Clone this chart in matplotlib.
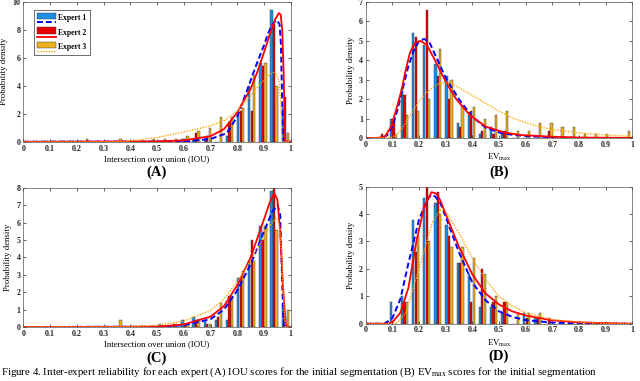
import numpy as np
import matplotlib.pyplot as plt
from matplotlib.legend_handler import HandlerBase
from matplotlib.patches import Rectangle
from matplotlib.lines import Line2D

plt.rcParams['font.family'] = ['Liberation Serif', 'DejaVu Serif']
plt.rcParams['font.weight'] = 'bold'
plt.rcParams['mathtext.fontset'] = 'custom'
plt.rcParams['mathtext.rm'] = 'Liberation Serif:bold'

# histogram densities, 24 bins on [0, 1]
A_e1 = [0, 0, 0, 0, 0, 0, 0, 0, 0, 0, 0, 0, 0, 0, 0.2, 0.2, 0.2, 0, 0.4, 2.0, 4.0, 5.6, 9.4, 2.4]
A_e2 = [0, 0, 0, 0, 0, 0, 0, 0, 0, 0, 0, 0, 0, 0, 0.2, 0.6, 0.4, 0, 1.4, 2.2, 2.2, 5.4, 8.4, 3.2]
A_e3 = [0, 0, 0, 0, 0, 0.2, 0, 0, 0.2, 0, 0, 0.2, 0.2, 0.2, 0.4, 0.8, 1.0, 1.8, 1.8, 2.4, 4.8, 5.6, 4.0, 0.6]

B_e1 = [0, 0, 1.0, 2.6, 5.4, 4.8, 3.8, 3.2, 0.8, 1.2, 0.2, 0.6, 0.2, 0, 0, 0, 0, 0, 0, 0, 0, 0, 0, 0]
B_e2 = [0, 0.2, 1.0, 2.2, 5.2, 6.6, 3.2, 2.0, 0.6, 1.4, 0.4, 0.2, 0.4, 0, 0, 0, 0.4, 0, 0, 0, 0, 0, 0, 0]
B_e3 = [0, 0, 0.2, 1.2, 1.4, 2.0, 4.6, 3.0, 1.6, 1.6, 1.0, 1.2, 1.4, 0.4, 0.4, 0.8, 0.8, 0.6, 0.6, 0.2, 0.2, 0.2, 0, 0.4]

C_e1 = [0, 0, 0, 0, 0, 0, 0, 0, 0, 0, 0, 0, 0.2, 0, 0.4, 0.6, 0.4, 0.4, 0.4, 2.8, 3.8, 5.8, 7.8, 1.4]
C_e2 = [0, 0, 0, 0, 0, 0, 0, 0, 0, 0, 0, 0, 0, 0.2, 0.2, 0.4, 0.2, 0.6, 1.8, 2.8, 5.0, 5.0, 8.0, 0.6]
C_e3 = [0, 0, 0, 0, 0, 0, 0, 0, 0.4, 0, 0, 0, 0, 0.2, 0.2, 0.4, 0.2, 1.4, 1.8, 3.2, 3.8, 5.8, 5.6, 1.0]

D_e1 = [0, 0, 0.8, 1.0, 3.8, 4.6, 4.4, 3.6, 2.2, 1.8, 0.6, 0.6, 0.4, 0, 0.4, 0.2, 0, 0, 0, 0, 0, 0, 0, 0]
D_e2 = [0, 0, 0, 0.8, 2.6, 5.0, 4.8, 3.2, 2.2, 0.8, 2.0, 0.8, 0.8, 0, 0.2, 0.2, 0.2, 0, 0, 0, 0, 0, 0, 0]
D_e3 = [0, 0, 0, 0.8, 3.2, 3.0, 4.0, 2.8, 2.8, 2.4, 1.8, 1.0, 0.8, 0.4, 0.4, 0.4, 0, 0, 0, 0, 0, 0, 0, 0]

# fitted density curves
A_x1 = [0, 0.6, 0.7, 0.76, 0.8, 0.835, 0.873, 0.9, 0.916, 0.935, 0.948, 0.958, 0.963, 0.967, 0.971, 1.0]
A_y1 = [0, 0.02, 0.2, 0.6, 1.8, 3.6, 5.6, 6.9, 7.8, 8.5, 8.7, 8.4, 7.0, 3.5, 0, 0]
A_x2 = [0, 0.5, 0.6, 0.7, 0.75, 0.8, 0.85, 0.875, 0.9, 0.92, 0.94, 0.955, 0.962, 0.968, 0.973, 0.977, 0.98, 1.0]
A_y2 = [0, 0.02, 0.1, 0.4, 0.9, 2.1, 3.8, 5.0, 6.4, 7.6, 8.7, 9.2, 9.1, 8.0, 5.0, 1.5, 0, 0]
A_x3 = [0, 0.35, 0.4, 0.5, 0.6, 0.65, 0.7, 0.75, 0.8, 0.85, 0.88, 0.9, 0.92, 0.935, 0.945, 0.955, 0.962, 0.966, 0.968, 1.0]
A_y3 = [0, 0, 0.05, 0.3, 0.7, 0.9, 1.15, 1.5, 2.2, 3.3, 4.0, 4.4, 4.8, 4.95, 4.85, 4.4, 3.0, 0.8, 0, 0]

B_x1 = [0, 0.06, 0.08, 0.1, 0.12, 0.14, 0.16, 0.18, 0.2, 0.22, 0.24, 0.26, 0.28, 0.3, 0.35, 0.4, 0.45, 0.5, 0.55, 0.6, 0.7, 0.8, 1.0]
B_y1 = [0, 0.02, 0.15, 0.6, 1.5, 2.6, 3.7, 4.5, 5.0, 5.1, 4.9, 4.3, 3.7, 3.1, 2.0, 1.1, 0.55, 0.3, 0.18, 0.12, 0.05, 0.02, 0]
B_x2 = [0, 0.05, 0.073, 0.095, 0.115, 0.135, 0.15, 0.166, 0.185, 0.205, 0.229, 0.26, 0.3, 0.34, 0.39, 0.45, 0.52, 0.58, 0.7, 0.8, 1.0]
B_y2 = [0, 0.03, 0.1, 0.6, 1.5, 2.5, 3.5, 4.4, 4.9, 5.0, 4.8, 4.0, 2.9, 2.0, 1.2, 0.6, 0.3, 0.17, 0.08, 0.04, 0.02]
B_x3 = [0, 0.1, 0.125, 0.15, 0.175, 0.2, 0.225, 0.25, 0.28, 0.32, 0.35, 0.4, 0.45, 0.5, 0.55, 0.6, 0.65, 0.7, 0.8, 0.9, 1.0]
B_y3 = [0, 0.05, 0.3, 0.8, 1.35, 1.9, 2.3, 2.6, 2.85, 2.8, 2.6, 2.2, 1.8, 1.4, 1.05, 0.8, 0.6, 0.45, 0.28, 0.17, 0.1]

C_x1 = [0, 0.5, 0.6, 0.7, 0.75, 0.8, 0.85, 0.9, 0.93, 0.95, 0.96, 0.965, 0.97, 0.975, 1.0]
C_y1 = [0, 0.02, 0.1, 0.45, 1.0, 2.1, 3.6, 5.5, 6.6, 7.0, 6.5, 4.0, 1.5, 0, 0]
C_x2 = [0, 0.5, 0.6, 0.7, 0.75, 0.8, 0.85, 0.9, 0.92, 0.938, 0.95, 0.96, 0.97, 0.98, 0.985, 1.0]
C_y2 = [0, 0.02, 0.15, 0.6, 1.2, 2.4, 4.0, 6.2, 7.1, 7.7, 7.3, 5.5, 2.5, 0.3, 0, 0]
C_x3 = [0, 0.4, 0.5, 0.6, 0.7, 0.75, 0.8, 0.85, 0.9, 0.93, 0.945, 0.955, 0.965, 0.975, 0.98, 1.0]
C_y3 = [0, 0.02, 0.1, 0.35, 0.95, 1.6, 2.6, 3.8, 5.2, 6.0, 6.3, 6.0, 4.5, 1.0, 0, 0]

D_x1 = [0, 0.07, 0.1, 0.13, 0.16, 0.2, 0.23, 0.245, 0.26, 0.28, 0.3, 0.35, 0.4, 0.45, 0.5, 0.55, 0.6, 0.7, 0.8, 1.0]
D_y1 = [0, 0, 0.2, 0.9, 2.2, 3.8, 4.5, 4.7, 4.65, 4.4, 3.9, 2.6, 1.5, 0.85, 0.45, 0.25, 0.13, 0.04, 0.01, 0]
D_x2 = [0, 0.08, 0.1, 0.13, 0.16, 0.19, 0.22, 0.247, 0.265, 0.28, 0.3, 0.35, 0.4, 0.45, 0.5, 0.55, 0.6, 0.7, 0.8, 0.9, 1.0]
D_y2 = [0, 0, 0.05, 0.4, 1.3, 3.0, 4.3, 4.8, 4.75, 4.5, 4.0, 2.8, 1.8, 1.1, 0.7, 0.45, 0.3, 0.12, 0.05, 0.02, 0]
D_x3 = [0, 0.1, 0.12, 0.15, 0.2, 0.25, 0.28, 0.3, 0.35, 0.4, 0.45, 0.5, 0.55, 0.6, 0.7, 0.8, 0.9, 1.0]
D_y3 = [0, 0, 0.05, 0.4, 2.0, 3.7, 4.15, 4.1, 3.3, 2.4, 1.6, 1.0, 0.65, 0.4, 0.15, 0.06, 0.02, 0]

labels = ['Expert 1', 'Expert 2', 'Expert 3']
bar_cols = ['#1E8EE6', '#E60000', '#EDB120']
line_cols = ['#0000FF', '#FF0000', '#FFA800']
line_styles = [(0, (3, 1.6)), '-', (0, (1, 1))]
line_widths = [1.4, 1.3, 1.0]

centers = (np.arange(24) + 0.5) / 24


class BarLineKey:
    def __init__(self, fc, lc, ls, lw):
        self.fc, self.lc, self.ls, self.lw = fc, lc, ls, lw


class BarLineHandler(HandlerBase):
    def create_artists(self, legend, key, xd, yd, w, h, fontsize, trans):
        r = Rectangle((-xd, -yd + h * 0.35), w, h * 0.65, facecolor=key.fc,
                      edgecolor='#333333', lw=0.3, transform=trans)
        l = Line2D([-xd, -xd + w], [-yd + h * 0.05] * 2, color=key.lc,
                   ls=key.ls, lw=key.lw, transform=trans)
        return [r, l]


def panel(rect, bars, curves, ymax, xlabel, letter, letter_y, legend=False):
    ax = fig.add_axes(rect)
    for i, vals in enumerate(bars):
        ax.bar(centers + (i - 1) * 0.0092, vals, width=0.0085, color=bar_cols[i],
               edgecolor='#333333', linewidth=0.3, zorder=2)
    for i, (xs, ys) in enumerate(curves):
        ax.plot(xs, ys, color=line_cols[i], ls=line_styles[i], lw=line_widths[i], zorder=3)
    ax.set_xlim(0, 1)
    ax.set_ylim(0, ymax)
    ax.set_xticks(np.arange(0, 1.01, 0.1))
    ax.set_xticklabels(['0', '0.1', '0.2', '0.3', '0.4', '0.5', '0.6', '0.7', '0.8', '0.9', '1'])
    ax.set_yticks(np.arange(0, ymax + 1, 2 if ymax == 10 else 1))
    ax.tick_params(direction='in', top=True, right=True, length=2, width=0.5,
                   labelsize=5.8, pad=2, colors='#222222')
    for s in ax.spines.values():
        s.set_linewidth(0.5)
        s.set_color('#555555')
    ax.set_xlabel(xlabel, fontsize=6.3, labelpad=2)
    ax.set_ylabel('Probability density', fontsize=6.3, labelpad=3)
    fig.text(rect[0] + rect[2] / 2, letter_y, letter, ha='center', va='center',
             fontsize=10.5, fontweight='bold')
    if legend:
        keys = [BarLineKey(bar_cols[i], line_cols[i], line_styles[i], line_widths[i]) for i in range(3)]
        leg = ax.legend(keys, labels, handler_map={BarLineKey: BarLineHandler()},
                        loc='upper left', bbox_to_anchor=(0.025, 0.97), fontsize=5.5,
                        handlelength=2.5, handleheight=1.6, labelspacing=0.6,
                        handletextpad=0.3, borderpad=0.4, fancybox=False,
                        framealpha=1, edgecolor='#333333')
        leg.get_frame().set_linewidth(0.5)
    return ax


fig = plt.figure(figsize=(6.4, 3.81), dpi=100)

iou = 'Intersection over union (IOU)'
ev = r'EV$_{\mathregular{max}}$'

panel([0.0364, 0.628, 0.418, 0.367], [A_e1, A_e2, A_e3],
      [(A_x1, A_y1), (A_x2, A_y2), (A_x3, A_y3)], 10, iou, '(A)', 1 - 172 / 381, legend=True)
panel([0.5714, 0.637, 0.4166, 0.358], [B_e1, B_e2, B_e3],
      [(B_x1, B_y1), (B_x2, B_y2), (B_x3, B_y3)], 7, ev, '(B)', 1 - 172 / 381)
panel([0.0364, 0.1417, 0.418, 0.3656], [C_e1, C_e2, C_e3],
      [(C_x1, C_y1), (C_x2, C_y2), (C_x3, C_y3)], 8, iou, '(C)', 1 - 358 / 381)
panel([0.5714, 0.1504, 0.4166, 0.3596], [D_e1, D_e2, D_e3],
      [(D_x1, D_y1), (D_x2, D_y2), (D_x3, D_y3)], 5, ev, '(D)', 1 - 356 / 381)

fig.text(0.002, 0.004,
         'Figure 4. Inter-expert reliability for each expert (A) IOU scores for the initial segmentation '
         '(B) EV$_{\\mathregular{max}}$ scores for the initial segmentation',
         ha='left', va='bottom', fontsize=7.8, fontweight='normal')

fig.savefig('out.png', dpi=100)
